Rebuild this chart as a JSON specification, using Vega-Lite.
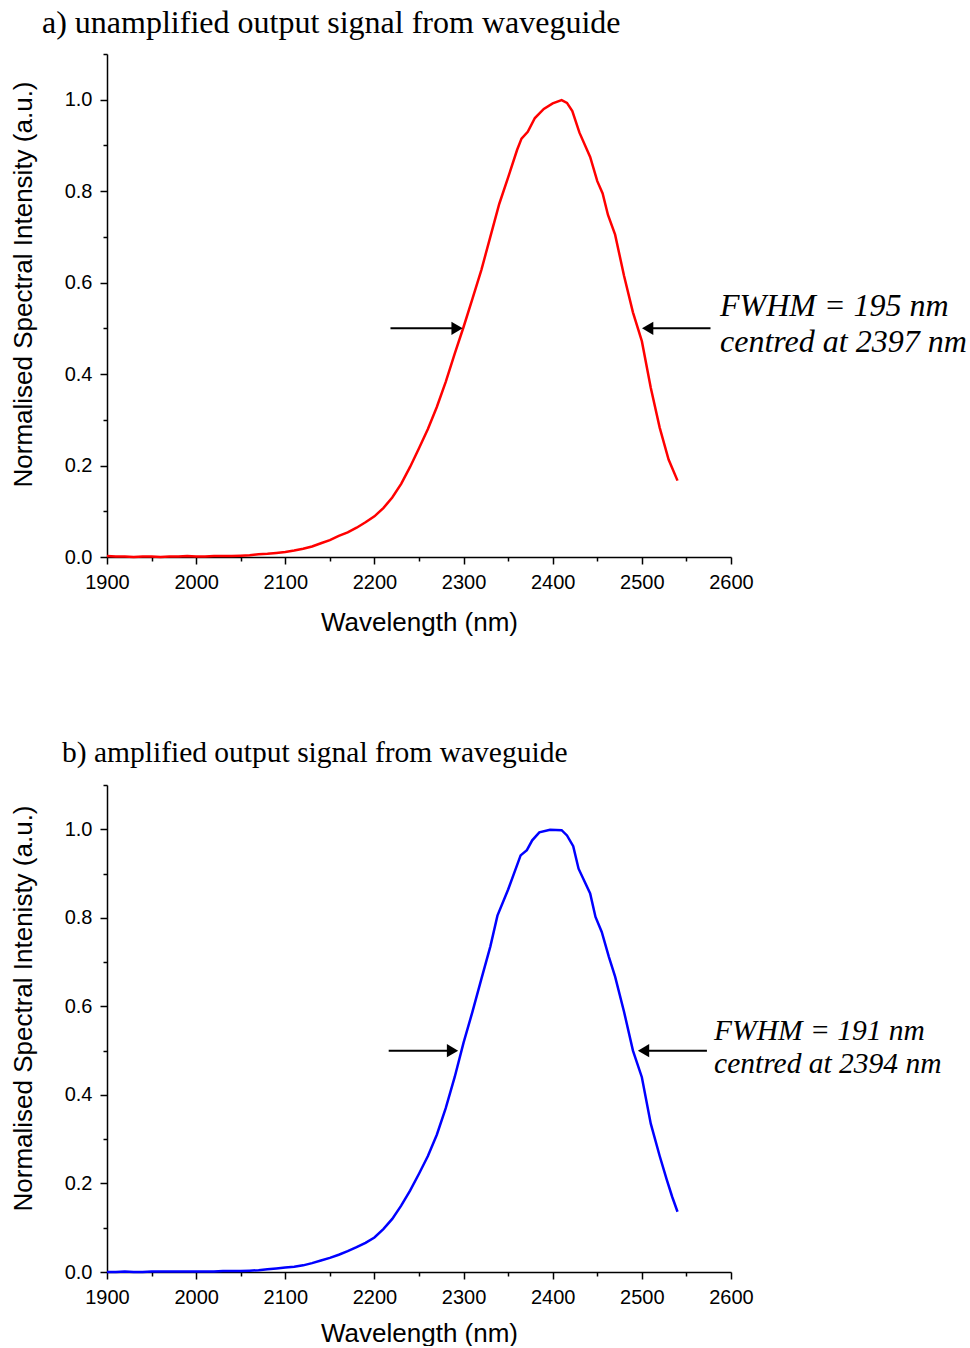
{
  "$schema": "https://vega.github.io/schema/vega-lite/v6.json",
  "background": "white",
  "padding": {"left": 10, "top": 7, "right": 0, "bottom": 0},
  "spacing": 102,
  "config": {
    "view": {"stroke": null},
    "axis": {
      "grid": false,
      "domainColor": "black",
      "domainWidth": 1.5,
      "tickColor": "black",
      "tickWidth": 1.5,
      "labelColor": "black",
      "labelFont": "Liberation Sans",
      "labelFontSize": 20,
      "labelFlush": false,
      "labelOverlap": false,
      "titleFont": "Liberation Sans",
      "titleFontSize": 26,
      "titleFontWeight": "normal",
      "titleColor": "black"
    },
    "title": {
      "font": "Liberation Serif",
      "fontWeight": "normal",
      "color": "black",
      "anchor": "start",
      "frame": "group"
    }
  },
  "datasets": {
    "unamplified": [
      {"wavelength": 1900, "intensity": 0.002}, {"wavelength": 1910, "intensity": 0.001},
      {"wavelength": 1920, "intensity": 0.001}, {"wavelength": 1930, "intensity": 0.000},
      {"wavelength": 1940, "intensity": 0.001}, {"wavelength": 1950, "intensity": 0.001},
      {"wavelength": 1960, "intensity": 0.000}, {"wavelength": 1970, "intensity": 0.001},
      {"wavelength": 1980, "intensity": 0.001}, {"wavelength": 1990, "intensity": 0.002},
      {"wavelength": 2000, "intensity": 0.001}, {"wavelength": 2010, "intensity": 0.001},
      {"wavelength": 2020, "intensity": 0.002}, {"wavelength": 2030, "intensity": 0.002},
      {"wavelength": 2040, "intensity": 0.002}, {"wavelength": 2050, "intensity": 0.003},
      {"wavelength": 2060, "intensity": 0.004}, {"wavelength": 2070, "intensity": 0.006},
      {"wavelength": 2080, "intensity": 0.007}, {"wavelength": 2090, "intensity": 0.009},
      {"wavelength": 2100, "intensity": 0.011}, {"wavelength": 2110, "intensity": 0.014},
      {"wavelength": 2120, "intensity": 0.018}, {"wavelength": 2130, "intensity": 0.023},
      {"wavelength": 2140, "intensity": 0.030}, {"wavelength": 2150, "intensity": 0.037},
      {"wavelength": 2160, "intensity": 0.046}, {"wavelength": 2170, "intensity": 0.054},
      {"wavelength": 2180, "intensity": 0.064}, {"wavelength": 2190, "intensity": 0.076},
      {"wavelength": 2200, "intensity": 0.089}, {"wavelength": 2210, "intensity": 0.107},
      {"wavelength": 2220, "intensity": 0.130}, {"wavelength": 2230, "intensity": 0.160},
      {"wavelength": 2240, "intensity": 0.197}, {"wavelength": 2250, "intensity": 0.238},
      {"wavelength": 2260, "intensity": 0.280}, {"wavelength": 2270, "intensity": 0.328},
      {"wavelength": 2280, "intensity": 0.383}, {"wavelength": 2290, "intensity": 0.444},
      {"wavelength": 2300, "intensity": 0.503}, {"wavelength": 2310, "intensity": 0.565},
      {"wavelength": 2320, "intensity": 0.628}, {"wavelength": 2330, "intensity": 0.700},
      {"wavelength": 2340, "intensity": 0.772}, {"wavelength": 2350, "intensity": 0.830},
      {"wavelength": 2360, "intensity": 0.890}, {"wavelength": 2365, "intensity": 0.915},
      {"wavelength": 2372, "intensity": 0.930}, {"wavelength": 2380, "intensity": 0.960},
      {"wavelength": 2390, "intensity": 0.980}, {"wavelength": 2400, "intensity": 0.992},
      {"wavelength": 2410, "intensity": 0.999}, {"wavelength": 2416, "intensity": 0.993},
      {"wavelength": 2422, "intensity": 0.975}, {"wavelength": 2430, "intensity": 0.928},
      {"wavelength": 2442, "intensity": 0.875}, {"wavelength": 2450, "intensity": 0.822},
      {"wavelength": 2456, "intensity": 0.795}, {"wavelength": 2462, "intensity": 0.748},
      {"wavelength": 2470, "intensity": 0.705}, {"wavelength": 2480, "intensity": 0.615},
      {"wavelength": 2490, "intensity": 0.535}, {"wavelength": 2500, "intensity": 0.472},
      {"wavelength": 2510, "intensity": 0.370}, {"wavelength": 2520, "intensity": 0.283},
      {"wavelength": 2530, "intensity": 0.213}, {"wavelength": 2540, "intensity": 0.167}
    ],
    "amplified": [
      {"wavelength": 1900, "intensity": 0.000}, {"wavelength": 1910, "intensity": 0.000},
      {"wavelength": 1920, "intensity": 0.001}, {"wavelength": 1930, "intensity": 0.000},
      {"wavelength": 1940, "intensity": 0.000}, {"wavelength": 1950, "intensity": 0.001},
      {"wavelength": 1960, "intensity": 0.001}, {"wavelength": 1970, "intensity": 0.001},
      {"wavelength": 1980, "intensity": 0.001}, {"wavelength": 1990, "intensity": 0.001},
      {"wavelength": 2000, "intensity": 0.001}, {"wavelength": 2010, "intensity": 0.001},
      {"wavelength": 2020, "intensity": 0.001}, {"wavelength": 2030, "intensity": 0.002},
      {"wavelength": 2040, "intensity": 0.002}, {"wavelength": 2050, "intensity": 0.002},
      {"wavelength": 2060, "intensity": 0.003}, {"wavelength": 2070, "intensity": 0.004},
      {"wavelength": 2080, "intensity": 0.006}, {"wavelength": 2090, "intensity": 0.008},
      {"wavelength": 2100, "intensity": 0.010}, {"wavelength": 2110, "intensity": 0.012},
      {"wavelength": 2120, "intensity": 0.015}, {"wavelength": 2130, "intensity": 0.020},
      {"wavelength": 2140, "intensity": 0.026}, {"wavelength": 2150, "intensity": 0.032},
      {"wavelength": 2160, "intensity": 0.039}, {"wavelength": 2170, "intensity": 0.047},
      {"wavelength": 2180, "intensity": 0.056}, {"wavelength": 2190, "intensity": 0.066},
      {"wavelength": 2200, "intensity": 0.078}, {"wavelength": 2210, "intensity": 0.097},
      {"wavelength": 2220, "intensity": 0.120}, {"wavelength": 2230, "intensity": 0.150},
      {"wavelength": 2240, "intensity": 0.184}, {"wavelength": 2250, "intensity": 0.222},
      {"wavelength": 2260, "intensity": 0.262}, {"wavelength": 2270, "intensity": 0.310},
      {"wavelength": 2280, "intensity": 0.370}, {"wavelength": 2290, "intensity": 0.440},
      {"wavelength": 2300, "intensity": 0.518}, {"wavelength": 2310, "intensity": 0.588},
      {"wavelength": 2320, "intensity": 0.662}, {"wavelength": 2330, "intensity": 0.735},
      {"wavelength": 2338, "intensity": 0.805}, {"wavelength": 2350, "intensity": 0.864},
      {"wavelength": 2364, "intensity": 0.941}, {"wavelength": 2371, "intensity": 0.953},
      {"wavelength": 2377, "intensity": 0.975}, {"wavelength": 2385, "intensity": 0.993},
      {"wavelength": 2397, "intensity": 0.999}, {"wavelength": 2410, "intensity": 0.998},
      {"wavelength": 2416, "intensity": 0.986}, {"wavelength": 2423, "intensity": 0.962},
      {"wavelength": 2429, "intensity": 0.911}, {"wavelength": 2442, "intensity": 0.855},
      {"wavelength": 2448, "intensity": 0.802}, {"wavelength": 2455, "intensity": 0.768},
      {"wavelength": 2463, "intensity": 0.712}, {"wavelength": 2470, "intensity": 0.667},
      {"wavelength": 2480, "intensity": 0.588}, {"wavelength": 2490, "intensity": 0.500},
      {"wavelength": 2500, "intensity": 0.440}, {"wavelength": 2510, "intensity": 0.335},
      {"wavelength": 2520, "intensity": 0.262}, {"wavelength": 2528, "intensity": 0.208},
      {"wavelength": 2534, "intensity": 0.170}, {"wavelength": 2540, "intensity": 0.136}
    ]
  },
  "vconcat": [
    {
      "title": {"text": "a) unamplified output signal from waveguide", "dx": -65, "offset": 4, "fontSize": 32},
      "width": 624,
      "height": 503,
      "encoding": {
        "x": {
          "type": "quantitative",
          "scale": {"domain": [1900, 2600], "nice": false, "zero": false},
          "axis": {
            "title": "Wavelength (nm)",
            "values": [1900, 1950, 2000, 2050, 2100, 2150, 2200, 2250, 2300, 2350, 2400, 2450, 2500, 2550, 2600],
            "format": "d",
            "labelExpr": "datum.value % 100 === 0 ? datum.label : ''",
            "tickSize": {"condition": {"test": "datum.value % 100 !== 0", "value": 4}, "value": 7},
            "labelPadding": 8,
            "titlePadding": 17
          }
        },
        "y": {
          "type": "quantitative",
          "scale": {"domain": [0, 1.1], "nice": false},
          "axis": {
            "title": "Normalised Spectral Intensity (a.u.)",
            "values": [0, 0.1, 0.2, 0.3, 0.4, 0.5, 0.6, 0.7, 0.8, 0.9, 1.0, 1.1],
            "format": ".1f",
            "labelExpr": "round(datum.value * 10) % 2 === 0 && datum.value < 1.05 ? datum.label : ''",
            "tickSize": {"condition": {"test": "round(datum.value * 10) % 2 === 1", "value": 4}, "value": 7},
            "labelPadding": 8,
            "titlePadding": 28,
            "titleY": 230
          }
        }
      },
      "layer": [
        {
          "data": {"name": "unamplified"},
          "mark": {"type": "line", "color": "#ff0000", "strokeWidth": 2.5},
          "encoding": {
            "x": {"field": "wavelength"},
            "y": {"field": "intensity"}
          }
        },
        {
          "data": {"values": [
            {"start": 2218, "end": 2293, "level": 0.5},
            {"start": 2506, "end": 2577, "level": 0.5}
          ]},
          "mark": {"type": "rule", "color": "black", "strokeWidth": 2},
          "encoding": {
            "x": {"field": "start"},
            "x2": {"field": "end"},
            "y": {"field": "level"}
          }
        },
        {
          "data": {"values": [
            {"pos": 2292.7, "level": 0.5, "dir": "right"},
            {"pos": 2506.5, "level": 0.5, "dir": "left"}
          ]},
          "mark": {"type": "point", "filled": true, "color": "black", "opacity": 1, "size": 170},
          "encoding": {
            "x": {"field": "pos"},
            "y": {"field": "level"},
            "shape": {
              "field": "dir",
              "type": "nominal",
              "scale": {"domain": ["right", "left"], "range": ["triangle-right", "triangle-left"]},
              "legend": null
            }
          }
        },
        {
          "data": {"values": [
            {"pos": 2587.7, "level": 0.527, "note": "FWHM = 195 nm"},
            {"pos": 2587.7, "level": 0.449, "note": "centred at 2397 nm"}
          ]},
          "mark": {
            "type": "text",
            "font": "Liberation Serif",
            "fontStyle": "italic",
            "fontSize": 32,
            "align": "left",
            "baseline": "alphabetic",
            "color": "black"
          },
          "encoding": {
            "x": {"field": "pos"},
            "y": {"field": "level"},
            "text": {"field": "note"}
          }
        }
      ]
    },
    {
      "title": {"text": "b) amplified output signal from waveguide", "dx": -45, "offset": 7, "fontSize": 29.5},
      "width": 624,
      "height": 487,
      "encoding": {
        "x": {
          "type": "quantitative",
          "scale": {"domain": [1900, 2600], "nice": false, "zero": false},
          "axis": {
            "title": "Wavelength (nm)",
            "values": [1900, 1950, 2000, 2050, 2100, 2150, 2200, 2250, 2300, 2350, 2400, 2450, 2500, 2550, 2600],
            "format": "d",
            "labelExpr": "datum.value % 100 === 0 ? datum.label : ''",
            "tickSize": {"condition": {"test": "datum.value % 100 !== 0", "value": 4}, "value": 7},
            "labelPadding": 8,
            "titlePadding": 13
          }
        },
        "y": {
          "type": "quantitative",
          "scale": {"domain": [0, 1.1], "nice": false},
          "axis": {
            "title": "Normalised Spectral Intenisty (a.u.)",
            "values": [0, 0.1, 0.2, 0.3, 0.4, 0.5, 0.6, 0.7, 0.8, 0.9, 1.0, 1.1],
            "format": ".1f",
            "labelExpr": "round(datum.value * 10) % 2 === 0 && datum.value < 1.05 ? datum.label : ''",
            "tickSize": {"condition": {"test": "round(datum.value * 10) % 2 === 1", "value": 4}, "value": 7},
            "labelPadding": 8,
            "titlePadding": 28,
            "titleY": 223
          }
        }
      },
      "layer": [
        {
          "data": {"name": "amplified"},
          "mark": {"type": "line", "color": "#0000ff", "strokeWidth": 2.5},
          "encoding": {
            "x": {"field": "wavelength"},
            "y": {"field": "intensity"}
          }
        },
        {
          "data": {"values": [
            {"start": 2216, "end": 2288, "level": 0.5},
            {"start": 2502, "end": 2573, "level": 0.5}
          ]},
          "mark": {"type": "rule", "color": "black", "strokeWidth": 2},
          "encoding": {
            "x": {"field": "start"},
            "x2": {"field": "end"},
            "y": {"field": "level"}
          }
        },
        {
          "data": {"values": [
            {"pos": 2287.6, "level": 0.5, "dir": "right"},
            {"pos": 2501.9, "level": 0.5, "dir": "left"}
          ]},
          "mark": {"type": "point", "filled": true, "color": "black", "opacity": 1, "size": 170},
          "encoding": {
            "x": {"field": "pos"},
            "y": {"field": "level"},
            "shape": {
              "field": "dir",
              "type": "nominal",
              "scale": {"domain": ["right", "left"], "range": ["triangle-right", "triangle-left"]},
              "legend": null
            }
          }
        },
        {
          "data": {"values": [
            {"pos": 2581, "level": 0.524, "note": "FWHM = 191 nm"},
            {"pos": 2581, "level": 0.449, "note": "centred at 2394 nm"}
          ]},
          "mark": {
            "type": "text",
            "font": "Liberation Serif",
            "fontStyle": "italic",
            "fontSize": 29.5,
            "align": "left",
            "baseline": "alphabetic",
            "color": "black"
          },
          "encoding": {
            "x": {"field": "pos"},
            "y": {"field": "level"},
            "text": {"field": "note"}
          }
        }
      ]
    }
  ]
}
